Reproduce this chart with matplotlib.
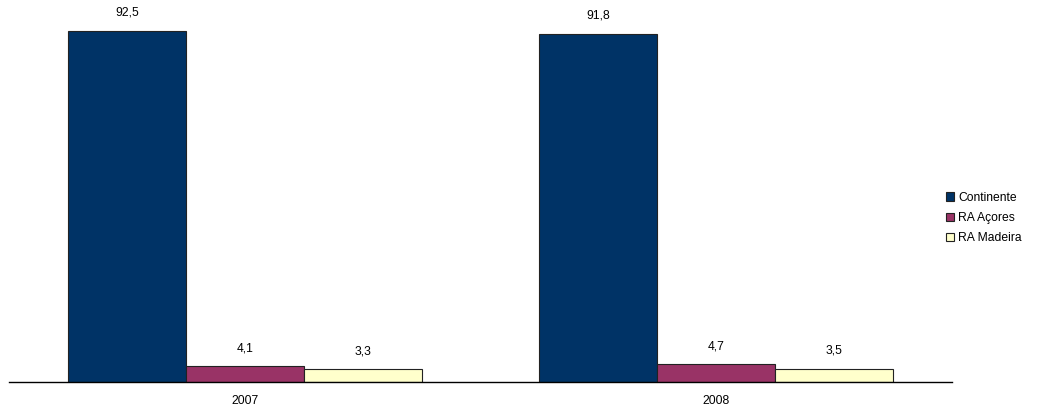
import matplotlib
matplotlib.use("Agg")
import matplotlib.pyplot as plt
import numpy as np

plt.rcParams['font.family'] = ['Liberation Sans', 'DejaVu Sans']

years = ["2007", "2008"]
series_names = ["Continente", "RA Açores", "RA Madeira"]
continente = [92.5, 91.8]
acores = [4.1, 4.7]
madeira = [3.3, 3.5]
colors = ["#003366", "#993366", "#FFFFCC"]

W, H = 1052, 407
fig = plt.figure(figsize=(W/100, H/100), dpi=100)
ax = fig.add_axes([9/W, (H-382)/H, (952-9)/W, 379.5/H])

x = np.arange(len(years))
bw = 0.25
fs = 8.7
for i, (vals, name, c) in enumerate(zip([continente, acores, madeira], series_names, colors)):
    bars = ax.bar(x + (i-1)*bw, vals, bw, color=c, edgecolor="#222222", linewidth=0.8, label=name)
    for b, v in zip(bars, vals):
        ax.text(b.get_x()+b.get_width()/2, v + 3.2, f"{v:.1f}".replace(".", ","),
                ha="center", va="bottom", fontsize=fs)

ax.set_xlim(-0.5, 1.5)
ax.set_ylim(0, 100)
ax.set_xticks(x)
ax.set_xticklabels(years, fontsize=fs)
ax.tick_params(axis='x', length=0, pad=9)
ax.set_yticks([])
for s in ["top", "right", "left"]:
    ax.spines[s].set_visible(False)
ax.spines["bottom"].set_linewidth(1.0)

ax.legend(loc="center left", bbox_to_anchor=(935/W, (H-218)/H), bbox_transform=fig.transFigure,
          frameon=False, fontsize=fs, handlelength=0.7, handleheight=0.7,
          handletextpad=0.3, labelspacing=0.7)

fig.savefig("out.png", dpi=100)
